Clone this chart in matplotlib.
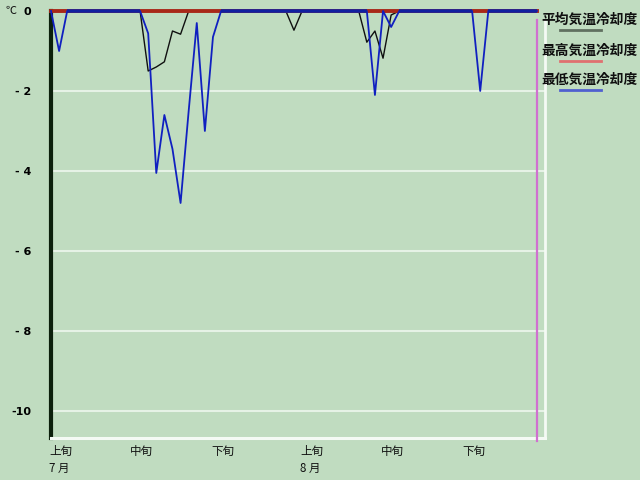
import matplotlib
matplotlib.use("Agg")
import matplotlib.pyplot as plt
import matplotlib.transforms as mtransforms
import numpy as np

# ---- data (days from Jul 1, index 0 .. 60 = Aug 30) ----
n_days = 61
avg_vals = {12: -1.5, 13: -1.4, 14: -1.27, 15: -0.5, 16: -0.58,
            30: -0.48,
            39: -0.78, 40: -0.5, 41: -1.18, 42: -0.1}
max_vals = {}
min_vals = {1: -1.0,
            12: -0.56, 13: -4.05, 14: -2.6, 15: -3.45, 16: -4.8, 17: -2.5,
            18: -0.3, 19: -3.0, 20: -0.65,
            40: -2.1, 42: -0.4,
            53: -2.0}

avg_series = [avg_vals.get(i, 0.0) for i in range(n_days)]
max_series = [max_vals.get(i, 0.0) for i in range(n_days)]
min_series = [min_vals.get(i, 0.0) for i in range(n_days)]

period_pos = [0, 10, 20, 31, 41, 51]
period_labels = ["上旬", "中旬", "下旬", "上旬", "中旬", "下旬"]
month_pos = [0, 31]
month_labels = ["7 月", "8 月"]
yticks = [0, -2, -4, -6, -8, -10]
ytick_labels = ["0", "- 2", "- 4", "- 6", "- 8", "-10"]
legend_labels = ["平均気温冷却度", "最高気温冷却度", "最低気温冷却度"]
today_idx = 60

bg = "#c0dcc0"
jp = ["Noto Sans CJK JP", "DejaVu Sans"]
plt.rcParams['font.family'] = jp

fig = plt.figure(figsize=(6.4, 4.8), dpi=100, facecolor=bg)
W, H = 640, 480
left, right, top, bottom = 51, 545, 11, 438
ax = fig.add_axes([left / W, 1 - bottom / H, (right - left) / W, (bottom - top) / H])
ax.set_facecolor(bg)

x = np.arange(n_days)
ax.set_xlim(0, 61)
ax.set_ylim(-(bottom - top) / 40.0, 0)

for yt in yticks[1:]:
    ax.axhline(yt, color="#e6f2e6", lw=1.5, zorder=1)

ax.plot(x, avg_series, color="#101010", lw=1.0, zorder=3, clip_on=False)
ax.plot(x, max_series, color="#a82818", lw=2.8, zorder=4, clip_on=False)
ax.plot(x, min_series, color="#1020c0", lw=1.3, zorder=5, clip_on=False)
# emphasise the zero baseline drawn by the min series
ax.plot(x, [v if v == 0 else np.nan for v in min_series], color="#1020a0",
        lw=2.6, zorder=5, clip_on=False, solid_capstyle="butt")

ax.axvline(today_idx, ymin=-0.008, ymax=0.98, color="#d070d0", lw=1.6, zorder=6, clip_on=False)

ax.spines["top"].set_visible(False)
ax.spines["left"].set_color("#0c200c")
ax.spines["left"].set_linewidth(3)
ax.spines["bottom"].set_color("#f4faf4")
ax.spines["bottom"].set_linewidth(2.2)
ax.spines["right"].set_color("#f4faf4")
ax.spines["right"].set_linewidth(2)
ax.spines["right"].set_bounds(-10.675, -0.25)

ax.set_yticks(yticks)
ax.set_yticklabels(ytick_labels, fontsize=8, fontweight="bold", family=["DejaVu Sans"])
ax.tick_params(axis="y", length=0, pad=14)
ax.set_xticks([])

trans = mtransforms.blended_transform_factory(ax.transData, fig.transFigure)
for p, lab in zip(period_pos, period_labels):
    ax.text(p - 0.25, 1 - 451 / H, lab, transform=trans, ha="left", va="center",
            fontsize=8.3, color="#101010", clip_on=False)
for p, lab in zip(month_pos, month_labels):
    ax.text(p - 0.25, 1 - 468 / H, lab, transform=trans, ha="left", va="center",
            fontsize=8.3, color="#101010", clip_on=False)

fig.text(5 / W, 1 - 11 / H, "℃", fontsize=8, ha="left", va="center", color="#101010")

leg_colors = ["#607060", "#e07070", "#5060d0"]
leg_y = [20, 51, 80]
for lab, c, yy in zip(legend_labels, leg_colors, leg_y):
    fig.text(541 / W, 1 - yy / H, lab, fontsize=9.9, fontweight="bold",
             ha="left", va="center", color="#101010")
    fig.add_artist(plt.Line2D([560 / W, 601 / W], [1 - (yy + 10) / H] * 2,
                              color=c, lw=2, transform=fig.transFigure))

fig.savefig("out.png", dpi=100, facecolor=bg)
